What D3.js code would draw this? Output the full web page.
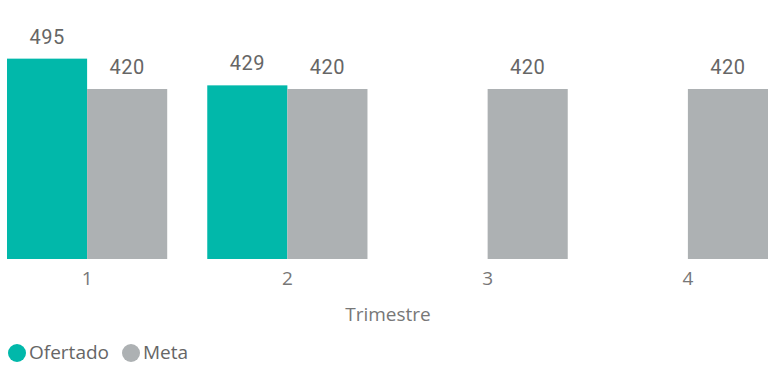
<!DOCTYPE html>
<html><head><meta charset="utf-8">
<script src="https://cdn.jsdelivr.net/npm/d3@7"></script>
<style>body{margin:0;background:#fff}</style>
</head><body>
<svg id="c" width="769" height="365"></svg>
<script>
const categories = ["1","2","3","4"];
const seriesNames = ["Ofertado","Meta"];
const ofertado = [495, 429, null, null];
const meta = [420, 420, 420, 420];
const colors = ["#01B8AA", "#ADB1B3"];

const svg = d3.select("#c");
const x = d3.scaleBand().domain(categories).range([7, 768]).paddingInner(0.2).paddingOuter(0);
const xs = d3.scaleBand().domain(seriesNames).range([0, x.bandwidth()]);
const y = d3.scaleLinear().domain([0, 495]).range([259, 259 - 495 * 170 / 420]);

const data = categories.map((c, i) => ({c, vals: [ofertado[i], meta[i]]}));

const g = svg.append("g");
data.forEach(d => {
  d.vals.forEach((v, j) => {
    if (v == null) return;
    const bx = x(d.c) + xs(seriesNames[j]);
    g.append("rect").attr("x", bx).attr("y", y(v)).attr("width", xs.bandwidth()).attr("height", y(0) - y(v)).attr("fill", colors[j]);
    g.append("text").attr("x", bx + xs.bandwidth() / 2).attr("y", y(v) - 15)
      .attr("text-anchor", "middle").attr("font-family", "Roboto, 'DejaVu Sans Condensed'")
      .attr("font-size", 20).attr("letter-spacing", 0.5).attr("fill", "#666").text(v);
  });
});

const axis = d3.axisBottom(x).tickSize(0).tickPadding(13);
const ag = svg.append("g").attr("transform", "translate(0,259)").call(axis);
ag.select(".domain").remove();
ag.selectAll("text").attr("font-family", "'Open Sans', sans-serif").attr("font-size", 19).attr("fill", "#777");

svg.append("text").attr("x", 388).attr("y", 321).attr("text-anchor", "middle")
  .attr("font-family", "'Open Sans', sans-serif").attr("font-size", 19).attr("fill", "#777").text("Trimestre");

const leg = svg.append("g");
let lx = 8;
seriesNames.forEach((s, j) => {
  leg.append("circle").attr("cx", lx + 9).attr("cy", 353).attr("r", 9).attr("fill", colors[j]);
  const t = leg.append("text").attr("x", lx + 21).attr("y", 359)
    .attr("font-family", "'Open Sans', sans-serif").attr("font-size", 19).attr("fill", "#666").text(s);
  lx += 21 + t.node().getComputedTextLength() + 13;
});
</script>
</body></html>
